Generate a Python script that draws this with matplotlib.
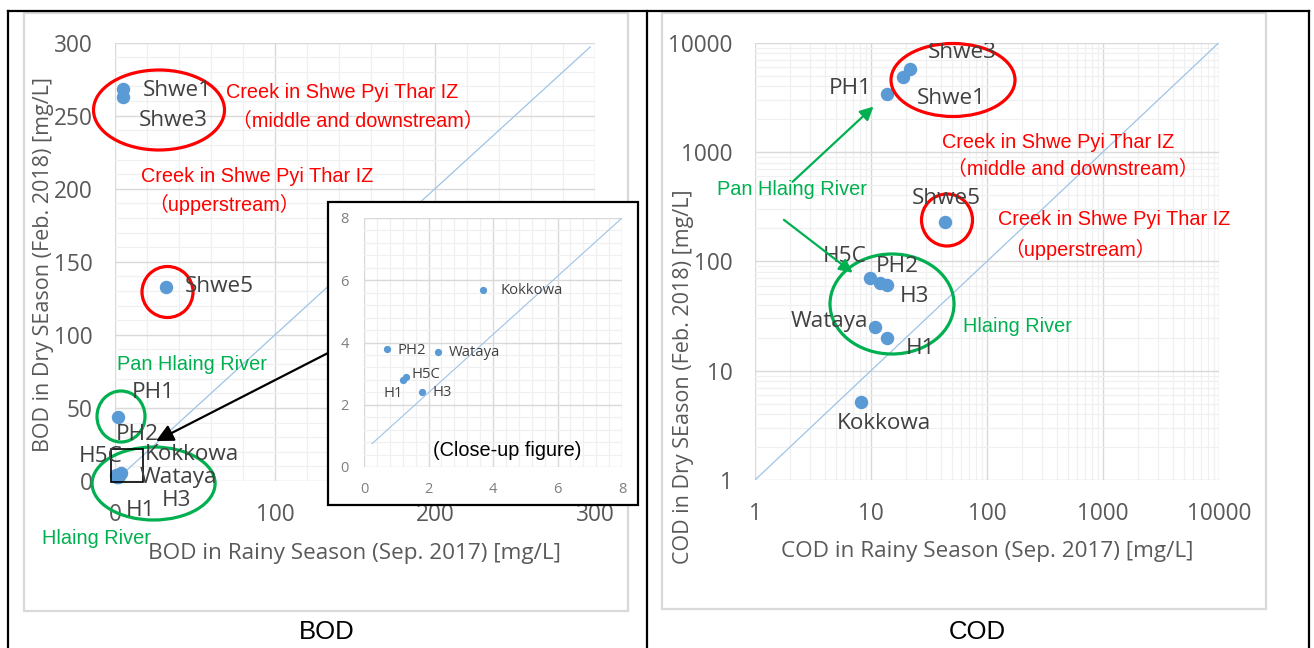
import numpy as np
import matplotlib
matplotlib.use("Agg")
import matplotlib.pyplot as plt
from matplotlib import font_manager
from matplotlib.patches import Ellipse, Rectangle, FancyArrowPatch
from matplotlib.lines import Line2D
from matplotlib.ticker import MultipleLocator, LogLocator, NullFormatter, FuncFormatter

# ---- data ----
names = ['Shwe1', 'Shwe3', 'Shwe5', 'PH1', 'PH2', 'H5C', 'H1', 'H3', 'Wataya', 'Kokkowa']
bod_rainy = [5.0, 5.0, 32.0, 1.9, 0.7, 1.3, 1.2, 1.8, 2.3, 3.7]
bod_dry = [268, 263, 133, 44, 3.8, 2.9, 2.8, 2.4, 3.7, 5.7]
cod_rainy = [18.8, 21.8, 43.3, 13.8, 11.9, 9.9, 13.8, 13.8, 10.8, 8.2]
cod_dry = [4860, 5690, 227, 3370, 63, 71, 20, 61, 25, 5.2]

bod_ticks = [0, 100, 200, 300]
bod_yticks = [0, 50, 100, 150, 200, 250, 300]
close_ticks = [0, 2, 4, 6, 8]
cod_ticks = [1, 10, 100, 1000, 10000]

W, H = 1314, 648
fig = plt.figure(figsize=(W / 100, H / 100), dpi=100)

have = {f.name for f in font_manager.fontManager.ttflist}
narrow = 'Liberation Sans Narrow' if 'Liberation Sans Narrow' in have else 'Liberation Sans'
nfam = [narrow, 'Noto Sans CJK JP', 'DejaVu Sans']
sfam = ['Open Sans', 'DejaVu Sans']
nsize = 16 if narrow == 'Liberation Sans Narrow' else 14.3  # keep widths of the narrow text

dot = '#5b9bd5'
diag = '#9dc3e6'
gmaj = '#d9d9d9'
gmin = '#f0f0f0'
txt = '#404040'
tick_c = '#595959'
red = '#ff0000'
green = '#00b050'


def fx(x):
    return x / W


def fy(y):
    return 1 - y / H


def axes_px(x0, y0, x1, y1, **kw):
    return fig.add_axes([fx(x0), fy(y1), (x1 - x0) / W, (y1 - y0) / H], **kw)


def ptext(x, y, s, **kw):
    kw.setdefault('ha', 'left')
    kw.setdefault('va', 'center')
    return fig.text(fx(x), fy(y), s, **kw)


def style(ax, size, pad):
    for sp in ax.spines.values():
        sp.set_visible(False)
    ax.tick_params(which='both', length=0, labelsize=size, labelcolor=tick_c, pad=pad)
    for lab in ax.get_xticklabels() + ax.get_yticklabels():
        lab.set_family(sfam)
    ax.grid(which='major', color=gmaj, lw=1.0, zorder=0)
    ax.grid(which='minor', color=gmin, lw=0.9, zorder=0)
    ax.set_axisbelow(True)


# ---- outer frame and chart boxes ----
frame_kw = dict(transform=fig.transFigure, color='black', lw=1.6)
fig.add_artist(Line2D([fx(8), fx(1309)], [fy(11), fy(11)], **frame_kw))
for xv in (8, 647, 1309):
    fig.add_artist(Line2D([fx(xv), fx(xv)], [fy(11), fy(648)], **frame_kw))
for (x0, x1, y1) in ((24, 628, 611), (662, 1266, 609)):
    fig.add_artist(Rectangle((fx(x0), fy(y1)), (x1 - x0) / W, (y1 - 13) / H,
                             transform=fig.transFigure, fill=False, ec=gmaj, lw=1.6))

# ---- BOD main ----
ax1 = axes_px(115, 42.6, 595, 481)
ax1.plot([0, 297], [0, 297], color=diag, lw=0.9, zorder=1)
ax1.scatter(bod_rainy, bod_dry, s=75, color=dot, zorder=3, clip_on=False)
ax1.set_xlim(0, 300)
ax1.set_ylim(0, 300)
ax1.set_xticks(bod_ticks)
ax1.set_yticks(bod_yticks)
ax1.xaxis.set_minor_locator(MultipleLocator(20))
ax1.yaxis.set_minor_locator(MultipleLocator(10))
style(ax1, 16.3, 16)
ptext(355, 554, 'BOD in Rainy Season (Sep. 2017) [mg/L]', ha='center', fontsize=16.2,
      color=tick_c, family=sfam)
ptext(44, 264, 'BOD in Dry SEason (Feb. 2018) [mg/L]', ha='center', fontsize=15.5,
      color=tick_c, family=sfam, rotation=90)

bod_labels = [('Shwe1', 143, 91), ('Shwe3', 139, 120), ('Shwe5', 185, 286), ('PH1', 132, 392),
              ('PH2', 116, 434), ('H5C', 79, 456), ('Kokkowa', 145, 455), ('Wataya', 140, 477),
              ('H3', 162, 501), ('H1', 126, 511)]
for s, x, y in bod_labels:
    ptext(x, y, s, fontsize=16.2, color=txt, family=sfam, zorder=3)

ptext(226, 92, 'Creek in Shwe Pyi Thar IZ', fontsize=nsize, color=red, family=nfam)
ptext(232, 121, '（middle and downstream）', fontsize=nsize, color=red, family=nfam)
ptext(141, 176, 'Creek in Shwe Pyi Thar IZ', fontsize=nsize, color=red, family=nfam)
ptext(148, 204, '（upperstream）', fontsize=nsize, color=red, family=nfam)
ptext(117, 364, 'Pan Hlaing River', fontsize=nsize, color=green, family=nfam)
ptext(42, 539, 'Hlaing River', fontsize=nsize, color=green, family=nfam)


def ring(cx, cy, w, h, color):
    fig.add_artist(Ellipse((fx(cx), fy(cy)), w / W, h / H, transform=fig.transFigure,
                           fill=False, ec=color, lw=2.3, zorder=2))


ring(159, 110, 131, 80, red)
ring(167.5, 292, 51, 51, red)
ring(121, 416.5, 48, 51, green)
ring(153.6, 483.5, 123, 73, green)

fig.add_artist(Rectangle((fx(111), fy(481.5)), 32 / W, 32.5 / H, transform=fig.transFigure,
                         fill=False, ec='black', lw=1.2, zorder=3))

# ---- close-up inset ----
fig.add_artist(Rectangle((fx(328), fy(505)), 310 / W, 303 / H, transform=fig.transFigure,
                         fc='white', ec='black', lw=1.6, zorder=4))
ax2 = axes_px(364, 218, 622, 467, zorder=5)
ax2.patch.set_alpha(0)
ax2.plot([0.25, 8], [0.75, 8], color=diag, lw=0.8, zorder=1)
ax2.scatter(bod_rainy, bod_dry, s=18, color=dot, zorder=3)
ax2.set_xlim(0, 8)
ax2.set_ylim(0, 8)
ax2.set_xticks(close_ticks)
ax2.set_yticks(close_ticks)
ax2.xaxis.set_minor_locator(MultipleLocator(0.4))
ax2.yaxis.set_minor_locator(MultipleLocator(0.4))
style(ax2, 10.5, 11)
for lab in ax2.get_xticklabels() + ax2.get_yticklabels():
    lab.set_color('#7f7f7f')

close_labels = [('Kokkowa', 500.6, 290.3), ('PH2', 397.6, 350.5), ('Wataya', 448.8, 353),
                ('H5C', 411.3, 375), ('H1', 383.5, 393.3), ('H3', 432, 392.3)]
for s, x, y in close_labels:
    ptext(x, y, s, fontsize=10.7, color=txt, family=sfam, zorder=6)
ptext(433, 450, '(Close-up figure)', fontsize=nsize, color='black', family=nfam, zorder=6)

fig.add_artist(FancyArrowPatch((fx(328), fy(353)), (fx(156), fy(441)), transform=fig.transFigure,
                               arrowstyle='-|>', mutation_scale=26, color='black', lw=1.6,
                               shrinkA=0, shrinkB=0, zorder=6))

# ---- COD ----
ax3 = axes_px(755, 42.6, 1219, 480)
ax3.set_xscale('log')
ax3.set_yscale('log')
ax3.plot([1, 10000], [1, 10000], color=diag, lw=0.9, zorder=1)
ax3.scatter(cod_rainy, cod_dry, s=75, color=dot, zorder=3)
ax3.set_xlim(1, 10000)
ax3.set_ylim(1, 10000)
ax3.set_xticks(cod_ticks)
ax3.set_yticks(cod_ticks)
ax3.xaxis.set_minor_locator(LogLocator(base=10, subs=np.arange(2, 10)))
ax3.yaxis.set_minor_locator(LogLocator(base=10, subs=np.arange(2, 10)))
ax3.xaxis.set_minor_formatter(NullFormatter())
ax3.yaxis.set_minor_formatter(NullFormatter())
ax3.xaxis.set_major_formatter(FuncFormatter(lambda v, p: '%d' % v))
ax3.yaxis.set_major_formatter(FuncFormatter(lambda v, p: '%d' % v))
style(ax3, 16.3, 16)
ptext(987, 552, 'COD in Rainy Season (Sep. 2017) [mg/L]', ha='center', fontsize=16.2,
      color=tick_c, family=sfam)
ptext(684, 377, 'COD in Dry SEason (Feb. 2018) [mg/L]', ha='center', fontsize=15.5,
      color=tick_c, family=sfam, rotation=90)

cod_labels = [('Shwe3', 928, 53), ('Shwe1', 916.5, 99), ('PH1', 829, 89), ('Shwe5', 911.5, 199),
              ('H5C', 822.6, 256), ('PH2', 876, 267), ('H3', 899.8, 296), ('Wataya', 790.5, 321.5),
              ('H1', 906, 348), ('Kokkowa', 837, 423.5)]
for s, x, y in cod_labels:
    t = ptext(x, y, s, fontsize=16.2, color=txt, family=sfam, zorder=3)
    t.set_clip_box(ax3.bbox)
    t.set_clip_on(True)

ptext(942, 142, 'Creek in Shwe Pyi Thar IZ', fontsize=nsize, color=red, family=nfam)
ptext(947, 169, '（middle and downstream）', fontsize=nsize, color=red, family=nfam)
ptext(998, 220, 'Creek in Shwe Pyi Thar IZ', fontsize=nsize, color=red, family=nfam)
ptext(1004, 249, '（upperstream）', fontsize=nsize, color=red, family=nfam)
ptext(717, 189, 'Pan Hlaing River', fontsize=nsize, color=green, family=nfam)
ptext(963, 326, 'Hlaing River', fontsize=nsize, color=green, family=nfam)

ring(953, 80, 124, 73, red)
ring(947, 220, 51, 52, red)
ring(892, 304, 124, 100, green)

for a, b in (((792.6, 181.8), (873.5, 106.6)), ((783.9, 219.8), (852.7, 272.7))):
    fig.add_artist(FancyArrowPatch((fx(a[0]), fy(a[1])), (fx(b[0]), fy(b[1])),
                                   transform=fig.transFigure, arrowstyle='-|>', mutation_scale=20,
                                   color=green, lw=1.6, shrinkA=0, shrinkB=0, zorder=6))

# ---- captions ----
ptext(327, 632, 'BOD', ha='center', fontsize=18.5, color='black', family=nfam)
ptext(977, 632, 'COD', ha='center', fontsize=18.5, color='black', family=nfam)

fig.savefig('out.png', dpi=100)
